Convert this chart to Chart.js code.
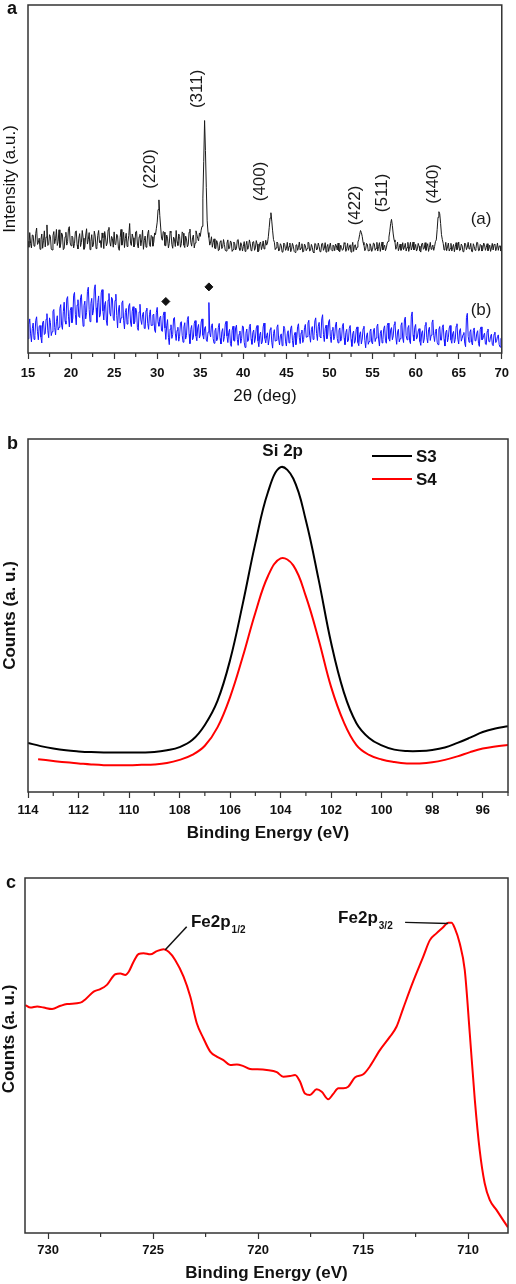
<!DOCTYPE html>
<html>
<head>
<meta charset="utf-8">
<script src="https://cdn.jsdelivr.net/npm/chart.js@4"></script>
<style>
  body { margin: 0; background: #fff; }
  canvas { display: block; }
</style>
</head>
<body>
<canvas id="chartA" width="516" height="410"></canvas>
<canvas id="chartB" width="516" height="440"></canvas>
<canvas id="chartC" width="516" height="434"></canvas>
<script>
// ---- panel a: XRD patterns, scanned 15..70 deg with a 0.1 deg step (one row = 2 deg)
const xrdStart = 15;
const xrdStep = 0.1;
const xrdA = [
  32.1, 30.4, 34.6, 31.5, 30.2, 33.9, 33.8, 30.7, 31.0, 34.4, 35.9, 31.2, 31.7, 33.0, 29.8, 32.6, 34.2, 30.1, 32.4, 35.1,
  30.5, 33.3, 36.8, 30.9, 31.2, 34.0, 33.5, 29.9, 29.6, 33.7, 34.9, 31.4, 32.8, 35.5, 30.9, 32.0, 35.4, 30.3, 31.3, 34.5,
  33.9, 29.7, 30.1, 33.4, 34.7, 31.0, 32.0, 35.8, 36.3, 31.6, 30.8, 33.6, 33.2, 30.2, 31.5, 34.8, 35.1, 31.1, 29.9, 33.0,
  34.3, 30.6, 31.8, 35.2, 33.0, 29.8, 30.4, 33.9, 35.7, 31.3, 32.6, 34.6, 29.7, 32.1, 34.0, 30.5, 31.1, 35.0, 33.6, 30.0,
  30.6, 33.8, 35.2, 31.7, 32.3, 30.3, 34.5, 33.1, 30.0, 34.9, 33.3, 30.8, 31.6, 35.4, 36.1, 31.9, 30.7, 33.5, 32.9, 30.4,
  34.8, 31.2, 31.4, 34.1, 33.7, 30.1, 29.5, 33.2, 35.5, 31.0, 32.2, 34.7, 30.3, 32.9, 34.4, 30.6, 31.9, 33.8, 37.2, 31.5,
  30.9, 34.2, 33.1, 30.5, 31.2, 34.8, 35.0, 31.3, 30.2, 33.4, 34.1, 30.8, 32.5, 35.3, 29.8, 32.3, 33.6, 30.4, 31.0, 34.3,
  35.3, 31.1, 30.6, 33.8, 33.4, 30.7, 31.8, 34.5, 34.0, 35.8, 37.6, 41.2, 44.0, 39.5, 36.2, 33.0, 32.4, 34.9, 34.7, 30.9,
  30.8, 33.9, 33.0, 30.2, 31.5, 35.0, 34.6, 31.2, 30.1, 33.3, 32.7, 30.6, 35.2, 32.0, 30.9, 34.2, 33.5, 30.4, 31.4, 34.8,
  34.4, 31.0, 30.3, 33.6, 32.8, 30.5, 31.1, 34.7, 35.6, 31.8, 30.7, 33.1, 33.9, 30.2, 31.6, 35.1, 34.1, 32.9, 32.2, 34.5,
  33.5, 35.3, 36.4, 44.5, 55.0, 66.8, 58.2, 47.5, 38.0, 34.6, 33.2, 31.0, 31.9, 33.4, 30.4, 31.8, 32.8, 30.1, 30.0, 32.3,
  31.7, 29.4, 29.6, 32.0, 32.3, 30.0, 30.5, 32.6, 31.2, 29.5, 29.3, 31.6, 32.5, 29.9, 30.1, 32.2, 31.8, 29.2, 29.7, 31.9,
  31.4, 29.6, 30.0, 32.4, 32.6, 30.2, 29.5, 31.7, 31.0, 29.3, 30.6, 32.0, 29.2, 30.9, 32.1, 29.8, 30.3, 32.5, 31.5, 29.4,
  29.8, 31.9, 32.0, 29.5, 30.2, 32.3, 31.3, 29.1, 29.4, 31.5, 31.9, 29.7, 30.7, 32.2, 29.9, 30.5, 32.4, 31.0, 31.6, 33.4,
  36.0, 38.8, 40.3, 37.9, 35.1, 32.6, 31.8, 29.7, 30.2, 31.9, 31.5, 29.3, 29.6, 31.4, 30.9, 29.0, 29.1, 31.6, 31.2, 29.5,
  30.0, 31.8, 29.4, 30.6, 31.6, 29.1, 29.8, 31.5, 30.7, 29.2, 28.9, 31.0, 31.1, 29.5, 30.3, 31.9, 29.6, 30.2, 31.4, 29.0,
  29.2, 31.3, 30.8, 29.4, 30.0, 31.8, 31.7, 29.3, 29.5, 31.2, 30.4, 29.0, 28.8, 31.5, 31.3, 29.6, 29.9, 31.6, 30.6, 29.1,
  29.3, 31.4, 31.5, 29.5, 30.1, 31.7, 29.0, 30.5, 31.2, 29.2, 30.5, 31.6, 29.7, 29.4, 31.0, 30.8, 29.4, 31.3, 30.8, 29.6,
  31.6, 29.3, 29.1, 31.0, 30.3, 29.5, 29.8, 31.7, 31.4, 29.2, 30.0, 31.5, 29.5, 30.4, 31.1, 29.0, 30.6, 31.8, 29.2, 30.9,
  31.1, 29.6, 30.4, 31.9, 32.6, 34.0, 35.2, 34.6, 33.5, 31.8, 31.0, 29.4, 29.9, 31.5, 31.2, 29.3, 29.5, 31.4, 30.7, 29.2,
  29.8, 31.6, 31.4, 29.5, 30.1, 31.8, 29.3, 30.6, 31.7, 29.2, 30.5, 31.9, 29.6, 30.3, 31.0, 29.4, 30.2, 31.6, 32.1, 33.3,
  35.0, 37.2, 38.4, 36.6, 34.2, 32.5, 31.9, 29.8, 30.6, 31.9, 29.4, 30.2, 31.3, 29.5, 30.0, 31.7, 29.7, 30.4, 31.5, 29.3,
  30.3, 31.8, 29.2, 30.5, 31.8, 29.6, 30.4, 31.9, 29.6, 30.1, 31.2, 29.3, 29.9, 31.5, 30.7, 29.4, 29.0, 31.3, 31.6, 29.8,
  30.1, 31.7, 29.5, 30.6, 31.4, 29.2, 30.3, 31.8, 29.8, 30.4, 31.0, 29.5, 30.6, 32.0, 32.5, 35.5, 39.0, 40.6, 40.0, 37.2,
  34.0, 32.6, 31.5, 29.6, 30.2, 31.8, 29.4, 30.5, 31.6, 29.3, 30.0, 31.5, 29.3, 30.4, 31.2, 29.1, 30.5, 31.7, 29.7, 30.2,
  31.9, 29.4, 29.6, 31.3, 30.8, 29.1, 29.2, 31.6, 31.3, 29.7, 30.4, 31.8, 29.9, 30.3, 31.5, 29.2, 29.1, 31.4, 30.6, 29.5,
  30.0, 31.8, 31.7, 29.4, 29.5, 31.2, 30.9, 29.3, 29.8, 31.6, 31.1, 29.5, 30.3, 31.4, 29.4, 30.0, 31.0, 29.2, 30.2, 31.5,
  29.6, 31.2, 31.3, 29.4, 30.1, 31.6, 29.5, 30.7, 30.8, 29.3, 30.0
];
const xrdB = [
  4.1, 8.2, 9.8, 5.5, 3.2, 7.0, 8.6, 3.9, 5.0, 9.4, 10.4, 6.1, 3.8, 7.7, 7.9, 4.6, 2.9, 8.8, 9.2, 5.3,
  5.6, 9.7, 11.3, 6.4, 4.4, 10.1, 8.8, 5.0, 6.1, 12.0, 12.5, 7.3, 5.2, 9.0, 10.7, 6.6, 7.4, 12.8, 13.9, 8.0,
  6.8, 11.9, 14.6, 9.2, 8.3, 15.5, 16.2, 10.4, 7.5, 12.2, 13.1, 8.7, 9.9, 16.6, 17.4, 11.0, 8.1, 13.8, 15.3, 10.5,
  10.2, 15.9, 16.8, 11.2, 7.7, 13.6, 14.9, 9.8, 11.6, 17.7, 18.9, 12.5, 9.0, 14.2, 15.7, 10.9, 12.3, 18.4, 19.6, 13.0,
  8.8, 14.5, 16.4, 10.3, 11.0, 17.3, 18.2, 12.1, 9.5, 13.9, 14.8, 9.2, 7.9, 15.2, 17.1, 11.5, 10.6, 16.0, 15.5, 10.0,
  9.3, 15.1, 16.9, 10.8, 7.2, 12.4, 13.7, 8.6, 10.1, 14.4, 15.0, 9.4, 6.9, 11.6, 12.8, 8.3, 9.7, 13.5, 14.2, 8.9,
  7.6, 12.0, 13.3, 8.4, 8.9, 12.9, 12.1, 7.3, 6.5, 11.8, 14.0, 9.5, 8.2, 11.1, 11.7, 7.1, 7.0, 12.2, 12.9, 8.5,
  6.8, 11.0, 12.4, 7.9, 8.0, 10.9, 11.2, 6.6, 5.9, 11.7, 13.1, 8.8, 7.7, 10.2, 10.6, 6.4, 6.2, 10.8, 11.8, 7.2,
  3.9, 7.8, 9.6, 4.5, 2.4, 6.9, 8.1, 4.2, 5.3, 9.9, 10.2, 5.7, 3.6, 6.5, 7.4, 3.4, 4.8, 8.6, 9.0, 5.1,
  3.1, 7.5, 8.7, 4.0, 5.0, 9.6, 10.5, 5.4, 2.7, 6.8, 7.9, 3.8, 4.4, 8.5, 9.3, 4.9, 3.5, 7.2, 8.2, 4.3,
  5.2, 8.9, 9.8, 5.1, 4.0, 7.1, 7.6, 3.7, 3.3, 6.0, 14.5, 5.8, 4.6, 7.9, 8.4, 4.1, 2.8, 6.4, 7.1, 3.5,
  3.9, 7.4, 8.5, 4.2, 2.6, 6.1, 7.0, 3.3, 4.7, 8.3, 9.1, 4.9, 3.0, 5.9, 6.8, 2.7, 1.9, 6.5, 7.7, 3.6,
  3.4, 7.2, 8.0, 3.9, 2.2, 5.4, 6.3, 2.8, 4.1, 7.8, 7.5, 3.1, 1.6, 5.7, 6.9, 3.3, 3.7, 7.6, 8.3, 4.0,
  2.5, 5.9, 6.6, 3.0, 4.3, 7.2, 7.9, 3.5, 1.8, 5.1, 6.0, 2.6, 3.2, 7.5, 8.6, 4.2, 2.9, 5.0, 5.8, 2.3,
  4.0, 6.8, 7.3, 3.1, 1.4, 5.6, 6.7, 3.4, 3.6, 7.4, 8.1, 4.0, 2.3, 4.9, 5.5, 2.1, 4.6, 7.7, 7.0, 3.2,
  2.0, 5.5, 6.4, 2.9, 3.8, 7.1, 7.8, 3.6, 1.7, 5.0, 5.9, 2.4, 4.2, 7.6, 8.4, 4.4, 2.7, 5.8, 6.6, 3.0,
  3.9, 7.3, 8.2, 4.5, 4.7, 8.6, 9.4, 5.0, 3.1, 6.7, 7.6, 3.9, 5.0, 9.2, 10.1, 5.6, 3.6, 7.7, 8.8, 4.6,
  4.4, 9.8, 11.0, 5.3, 3.3, 7.0, 8.0, 4.1, 5.2, 8.9, 9.6, 4.7, 3.0, 6.6, 7.4, 3.8, 4.8, 8.1, 8.9, 4.2,
  2.9, 6.5, 7.2, 3.4, 4.1, 7.7, 8.5, 4.3, 2.4, 5.9, 6.8, 3.2, 3.7, 7.1, 7.9, 3.9, 1.9, 5.5, 6.3, 2.8,
  3.5, 6.8, 7.5, 3.0, 2.1, 5.3, 6.1, 2.6, 4.0, 7.0, 7.7, 3.6, 1.5, 4.9, 5.8, 2.5, 3.3, 6.2, 6.9, 3.1,
  2.6, 6.3, 7.1, 3.3, 4.3, 7.6, 8.3, 4.0, 2.0, 5.7, 6.5, 2.9, 3.9, 7.0, 7.8, 3.5, 2.8, 7.9, 8.6, 4.1,
  3.4, 6.6, 7.3, 3.8, 4.9, 8.2, 9.0, 4.6, 2.5, 6.0, 6.8, 3.2, 4.1, 7.9, 8.7, 4.3, 3.0, 9.5, 10.3, 5.0,
  3.8, 7.2, 7.9, 3.5, 2.7, 10.6, 11.8, 5.2, 3.5, 7.4, 8.2, 4.0, 4.6, 6.3, 7.0, 3.3, 2.2, 5.7, 6.4, 2.9,
  4.0, 8.0, 8.8, 4.4, 2.9, 6.7, 7.4, 3.6, 5.1, 8.7, 9.5, 5.0, 3.3, 6.2, 6.9, 3.1, 2.4, 6.8, 7.6, 3.7,
  3.7, 7.4, 8.1, 3.9, 2.0, 5.9, 6.6, 3.2, 4.5, 7.2, 7.9, 3.8, 2.8, 5.5, 6.2, 2.9, 3.9, 7.7, 8.4, 4.0,
  2.6, 6.3, 7.0, 3.4, 4.2, 5.3, 5.9, 2.8, 1.8, 10.2, 11.4, 4.8, 3.1, 6.0, 6.7, 3.0, 2.3, 6.5, 7.2, 3.5,
  3.6, 5.7, 6.4, 2.7, 1.9, 6.8, 7.5, 3.8, 4.0, 5.1, 5.7, 2.6, 2.4, 6.2, 6.9, 3.3, 3.2, 4.8, 5.4, 2.5,
  2.1, 5.4, 6.0, 3.0, 3.5, 4.7, 5.2, 2.4, 1.7, 4.1, 4.6
];
const diamondAngles = [31, 36];
const diamondLevels = [14.8, 19.0];
const hklLabels = ['(220)', '(311)', '(400)', '(422)', '(511)', '(440)'];
const hklAngles = [29.2, 34.6, 42.0, 53.0, 56.1, 62.1];
const hklLevels = [52.9, 75.9, 49.3, 42.4, 46.0, 48.6];
const curveNames = ['(a)', '(b)'];
const curveNameAngle = 67.6;
const curveNameLevels = [38.4, 12.2];

// ---- panel b: Si 2p
const siEnergyS3 = [114, 113.5, 113, 112.5, 112, 111.5, 111, 110.5, 110, 109.5, 109, 108.5, 108, 107.5, 107, 106.5,
  106, 105.5, 105, 104.5, 104, 103.5, 103, 102.5, 102, 101.5, 101, 100.5, 100, 99.5, 99, 98.5, 98, 97.5, 97, 96.5,
  96, 95.5, 95];
const siCountsS3 = [13.9, 13.0, 12.3, 11.8, 11.5, 11.3, 11.2, 11.2, 11.2, 11.2, 11.3, 11.8, 12.7, 14.7, 19.0, 25.8,
  37.4, 53.3, 70.5, 85.0, 92.0, 88.8, 76.9, 60.3, 42.2, 28.3, 19.5, 15.3, 13.2, 12.0, 11.6, 11.6, 11.9, 12.6, 13.9, 15.4,
  17.0, 18.0, 18.6];
const siEnergyS4 = [113.6, 113, 112.5, 112, 111.5, 111, 110.5, 110, 109.5, 109, 108.5, 108, 107.5, 107, 106.5,
  106, 105.5, 105, 104.5, 104, 103.5, 103, 102.5, 102, 101.5, 101, 100.5, 100, 99.5, 99, 98.5, 98, 97.5, 97, 96.5,
  96, 95.5, 95];
const siCountsS4 = [9.3, 8.8, 8.4, 8.1, 7.8, 7.6, 7.6, 7.6, 7.7, 7.8, 8.2, 9.1, 10.5, 13.1, 18.3,
  26.9, 38.3, 50.8, 61.2, 66.2, 64.2, 55.4, 43.3, 29.7, 19.8, 13.3, 10.5, 9.2, 8.5, 8.1, 8.1, 8.4, 9.1, 10.1, 11.3,
  12.3, 12.9, 13.3];
const siSeries = ['S3', 'S4'];

// ---- panel c: Fe 2p
const feEnergy = [731.08, 730.84, 730.52, 730.21, 729.81, 729.41, 729.10, 728.46, 728.23, 727.83,
  727.51, 727.20, 726.80, 726.56, 726.32, 726.16, 725.93, 725.69, 725.45, 725.13,
  724.82, 724.50, 724.26, 723.95, 723.55, 723.23, 722.92, 722.60, 722.28, 721.97,
  721.65, 721.33, 721.01, 720.70, 720.38, 720.06, 719.59, 719.11, 718.80, 718.48,
  718.24, 718.00, 717.77, 717.53, 717.21, 716.97, 716.66, 716.42, 716.18, 715.94,
  715.71, 715.39, 714.99, 714.68, 714.20, 713.72, 713.41, 713.09, 712.62, 712.14,
  711.82, 711.51, 711.19, 710.95, 710.79, 710.63, 710.40, 710.16, 709.92, 709.68,
  709.45, 709.21, 708.97, 708.65, 708.34, 708.10];
const feCounts = [64.2, 63.5, 63.8, 63.5, 63.1, 64.0, 64.5, 64.9, 65.8, 68.0,
  68.7, 69.9, 72.9, 73.1, 72.7, 73.6, 76.4, 78.6, 78.8, 78.5,
  79.4, 79.9, 79.2, 76.9, 72.2, 66.6, 59.1, 54.8, 51.1, 49.7,
  48.7, 47.3, 47.5, 47.0, 46.2, 46.1, 45.9, 45.3, 44.0, 44.2,
  44.5, 42.6, 39.3, 38.9, 40.5, 39.8, 37.7, 39.2, 40.8, 40.8,
  41.2, 43.8, 44.7, 46.9, 51.5, 55.3, 58.1, 63.3, 70.8, 77.8,
  82.5, 84.4, 86.1, 87.4, 87.4, 85.8, 81.6, 74.1, 56.2, 37.5,
  23.4, 14.0, 9.3, 6.5, 3.7, 1.6];
const feLabels = ['1/2', '3/2'];
const feLabelEnergy = [723.2, 716.19];
const feLabelLevel = [86.3, 87.2];
const feLeaderFrom = [[723.40, 86.3], [713.0, 87.5]];
const feLeaderTo = [[724.43, 79.7], [710.95, 87.2]];

const FONT = '"Liberation Sans", Arial, Helvetica, sans-serif';
Chart.defaults.font.family = FONT;
Chart.defaults.color = '#111';
Chart.defaults.animation = false;

const pts = (xs, ys) => xs.map((x, i) => ({ x: x, y: ys[i] }));

// frame around the plot, short minor ticks and the panel letter
const framePlugin = {
  id: 'frame',
  afterDraw(chart, args, opts) {
    const { ctx, chartArea: a } = chart;
    const x = chart.scales.x;
    ctx.save();
    ctx.strokeStyle = '#333';
    ctx.lineWidth = 1.5;
    ctx.strokeRect(a.left, a.top, a.right - a.left, a.bottom - a.top);
    ctx.lineWidth = 1.2;
    ctx.beginPath();
    const k0 = Math.ceil(x.min / opts.minor - 1e-6);
    const k1 = Math.floor(x.max / opts.minor + 1e-6);
    for (let k = k0; k <= k1; k++) {
      const v = k * opts.minor;
      const r = v / opts.major;
      if (Math.abs(r - Math.round(r)) < 1e-6) continue;
      const px = x.getPixelForValue(v);
      ctx.moveTo(px, a.bottom);
      ctx.lineTo(px, a.bottom + 4);
    }
    ctx.stroke();
    ctx.fillStyle = '#111';
    ctx.font = 'bold 18px ' + FONT;
    ctx.textBaseline = 'alphabetic';
    ctx.fillText(opts.letter, opts.letterX, opts.letterY);
    ctx.restore();
  }
};

function xAxis(min, max, step, reverse, height, pad, title, titlePad, bold) {
  return {
    type: 'linear', min: min, max: max, reverse: reverse,
    afterFit: (s) => { s.height = height; },
    grid: { display: true, drawOnChartArea: false, drawTicks: true, tickLength: 6, tickColor: '#333', tickWidth: 1.2 },
    border: { display: false },
    ticks: { stepSize: step, includeBounds: false, autoSkip: false, maxRotation: 0, padding: pad,
      font: { size: 13, weight: 'bold' }, color: '#111' },
    title: { display: true, text: title, font: { size: 17, weight: bold ? 'bold' : 'normal', lineHeight: 1.2 },
      color: '#111', padding: { top: 0, bottom: titlePad } }
  };
}

function yAxis(width, title, bold) {
  return {
    type: 'linear', min: 0, max: 100,
    afterFit: (s) => { s.width = width; },
    grid: { display: false }, border: { display: false },
    ticks: { display: false },
    title: { display: !!title, text: title, font: { size: 17, weight: bold ? 'bold' : 'normal', lineHeight: 1.2 },
      color: '#111', padding: { top: 0, bottom: 0 } }
  };
}

// ---------- panel a
const xrdNotes = {
  id: 'xrdNotes',
  afterDatasetsDraw(chart) {
    const { ctx, scales: { x, y } } = chart;
    ctx.save();
    ctx.fillStyle = '#1a1a1a';
    ctx.font = '17px ' + FONT;
    ctx.textAlign = 'center';
    ctx.textBaseline = 'middle';
    hklLabels.forEach((t, i) => {
      ctx.save();
      ctx.translate(x.getPixelForValue(hklAngles[i]), y.getPixelForValue(hklLevels[i]));
      ctx.rotate(-Math.PI / 2);
      ctx.fillText(t, 0, 0);
      ctx.restore();
    });
    curveNames.forEach((t, i) => {
      ctx.fillText(t, x.getPixelForValue(curveNameAngle), y.getPixelForValue(curveNameLevels[i]));
    });
    ctx.restore();
  }
};

new Chart(document.getElementById('chartA'), {
  type: 'line',
  data: {
    datasets: [
      { label: '(a)', data: xrdA.map((v, i) => ({ x: xrdStart + i * xrdStep, y: v })),
        borderColor: '#1a1a1a', borderWidth: 1, pointRadius: 0, tension: 0 },
      { label: '(b)', data: xrdB.map((v, i) => ({ x: xrdStart + i * xrdStep, y: v })),
        borderColor: '#1414ff', borderWidth: 1, pointRadius: 0, tension: 0 },
      { label: 'marks', data: pts(diamondAngles, diamondLevels), showLine: false,
        pointStyle: 'rectRot', pointRadius: 4, pointBackgroundColor: '#111', pointBorderColor: '#111' }
    ]
  },
  options: {
    responsive: false, events: [],
    layout: { padding: { top: 1, right: 8, left: 0, bottom: 0 } },
    plugins: { legend: { display: false }, tooltip: { enabled: false },
      frame: { minor: 2.5, major: 5, letter: 'a', letterX: 7, letterY: 14 } },
    scales: {
      x: xAxis(15, 70, 5, false, 57, 7, '2\u03b8 (deg)', 3, false),
      y: yAxis(28, 'Intensity (a.u.)', false)
    }
  },
  plugins: [framePlugin, xrdNotes]
});

// ---------- panel b
const siNotes = {
  id: 'siNotes',
  afterDatasetsDraw(chart) {
    const { ctx, chartArea: a, scales: { x, y } } = chart;
    ctx.save();
    ctx.fillStyle = '#111';
    ctx.font = 'bold 17px ' + FONT;
    ctx.textAlign = 'center';
    ctx.textBaseline = 'middle';
    ctx.fillText('Si 2p', x.getPixelForValue(103.92), y.getPixelForValue(96.6));
    // legend
    const colors = chart.data.datasets.map(d => d.borderColor);
    ctx.textAlign = 'left';
    siSeries.forEach((name, i) => {
      const ly = a.top + 17 + i * 23;
      ctx.strokeStyle = colors[i];
      ctx.lineWidth = 2;
      ctx.beginPath();
      ctx.moveTo(a.left + 344, ly);
      ctx.lineTo(a.left + 384, ly);
      ctx.stroke();
      ctx.fillText(name, a.left + 388, ly + 1);
    });
    ctx.restore();
  }
};

new Chart(document.getElementById('chartB'), {
  type: 'line',
  data: {
    datasets: [
      { label: 'S3', data: pts(siEnergyS3, siCountsS3), borderColor: '#000', borderWidth: 2,
        pointRadius: 0, tension: 0.4 },
      { label: 'S4', data: pts(siEnergyS4, siCountsS4), borderColor: '#f00', borderWidth: 2,
        pointRadius: 0, tension: 0.4 }
    ]
  },
  options: {
    responsive: false, events: [],
    layout: { padding: { top: 29, right: 8, left: 0, bottom: 0 } },
    plugins: { legend: { display: false }, tooltip: { enabled: false },
      frame: { minor: 1, major: 2, letter: 'b', letterX: 7, letterY: 39 } },
    scales: {
      x: xAxis(95, 114, 2, true, 58, 5, 'Binding Energy (eV)', 6, true),
      y: yAxis(28, 'Counts (a. u.)', true)
    }
  },
  plugins: [framePlugin, siNotes]
});

// ---------- panel c
const feNotes = {
  id: 'feNotes',
  afterDatasetsDraw(chart) {
    const { ctx, scales: { x, y } } = chart;
    ctx.save();
    ctx.fillStyle = '#111';
    ctx.strokeStyle = '#111';
    ctx.lineWidth = 1.5;
    feLabels.forEach((sub, i) => {
      const px = x.getPixelForValue(feLabelEnergy[i]);
      const py = y.getPixelForValue(feLabelLevel[i]);
      ctx.font = 'bold 17px ' + FONT;
      ctx.textAlign = 'left';
      ctx.textBaseline = 'alphabetic';
      ctx.fillText('Fe2p', px, py);
      const w = ctx.measureText('Fe2p').width;
      ctx.font = 'bold 10px ' + FONT;
      ctx.fillText(sub, px + w + 1, py + 6);
      ctx.beginPath();
      ctx.moveTo(x.getPixelForValue(feLeaderFrom[i][0]), y.getPixelForValue(feLeaderFrom[i][1]));
      ctx.lineTo(x.getPixelForValue(feLeaderTo[i][0]), y.getPixelForValue(feLeaderTo[i][1]));
      ctx.stroke();
    });
    // y title, sitting a little above the middle of the axis
    ctx.font = 'bold 17px ' + FONT;
    ctx.textAlign = 'center';
    ctx.textBaseline = 'middle';
    ctx.translate(9, 189);
    ctx.rotate(-Math.PI / 2);
    ctx.fillText('Counts (a. u.)', 0, 0);
    ctx.restore();
  }
};

new Chart(document.getElementById('chartC'), {
  type: 'line',
  data: {
    datasets: [
      { label: 'Fe 2p', data: pts(feEnergy, feCounts), borderColor: '#f00', borderWidth: 2,
        pointRadius: 0, cubicInterpolationMode: 'monotone' }
    ]
  },
  options: {
    responsive: false, events: [],
    layout: { padding: { top: 28, right: 8, left: 0, bottom: 0 } },
    plugins: { legend: { display: false }, tooltip: { enabled: false },
      frame: { minor: 2.5, major: 5, letter: 'c', letterX: 6, letterY: 38 } },
    scales: {
      x: xAxis(708.1, 731.1, 5, true, 51, 4, 'Binding Energy (eV)', 0, true),
      y: yAxis(25, '', true)
    }
  },
  plugins: [framePlugin, feNotes]
});
</script>
</body>
</html>
